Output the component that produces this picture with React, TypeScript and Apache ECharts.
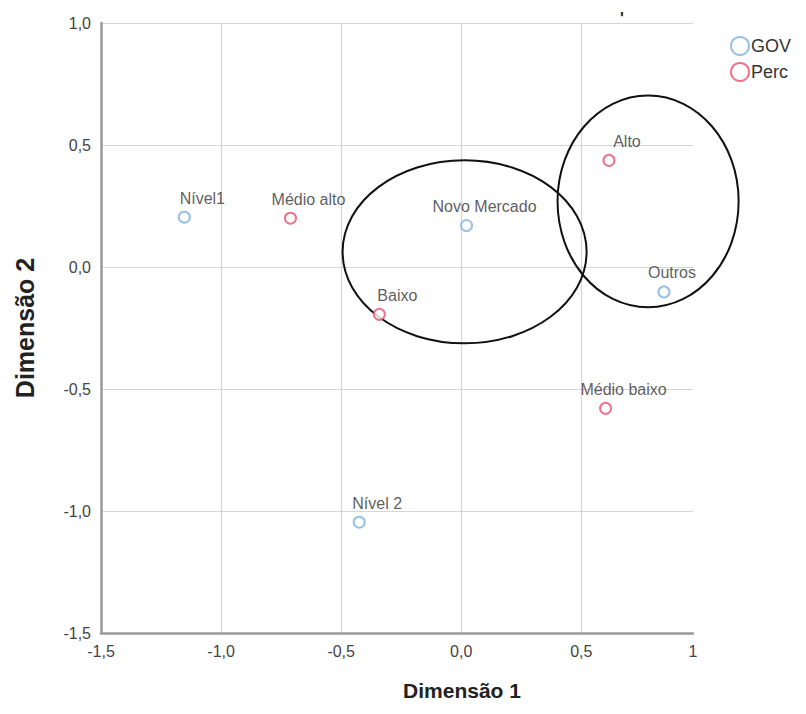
import React, { useEffect, useRef } from 'react';
import * as echarts from 'echarts';

// ---- data ----
const govName = 'GOV';
const percName = 'Perc';

const govLabels = ['Nível1', 'Novo Mercado', 'Outros', 'Nível 2'];
const govX = [-1.153, 0.022, 0.844, -0.425];
const govY = [0.204, 0.17, -0.102, -1.046];

const percLabels = ['Médio alto', 'Baixo', 'Alto', 'Médio baixo'];
const percX = [-0.711, -0.341, 0.615, 0.601];
const percY = [0.2, -0.194, 0.437, -0.579];

// ellipses (centre x, centre y, radius x, radius y) in data units
const ellipseCx = [0.014, 0.778];
const ellipseCy = [0.062, 0.269];
const ellipseRx = [0.508, 0.377];
const ellipseRy = [0.375, 0.434];

const xMin = -1.5;
const xMax = 0.965;
const yMin = -1.5;
const yMax = 1.0;
const tickStep = 0.5;

const xTitle = 'Dimensão 1';
const yTitle = 'Dimensão 2';

// ---- styles ----
const FONT = '"Liberation Sans", Arial, sans-serif';
const BLUE = '#7db1e4';
const RED = '#e6506f';
const labelShiftX: Record<string, number> = { Outros: 8 };

function fmt(v: number): string {
  if (Math.abs(v - xMax) < 1e-6) return '1';
  return v.toFixed(1).replace('.', ',');
}

function pointData(names: string[], xs: number[], ys: number[]) {
  return names.map((n, i) => ({
    name: n,
    value: [xs[i], ys[i]],
    label: { offset: [labelShiftX[n] !== undefined ? labelShiftX[n] : 18, -19] },
  }));
}

export default function App() {
  const ref = useRef<HTMLDivElement>(null);
  useEffect(() => {
    if (!ref.current) return;
    const chart = echarts.init(ref.current, null, { renderer: 'svg' });
    const pointLabel = {
      show: true,
      position: 'inside',
      formatter: (p: any) => p.name,
      color: '#333',
      fontSize: 16,
      fontFamily: FONT,
    };
    const option: any = {
      animation: false,
      backgroundColor: '#ffffff',
      textStyle: { fontFamily: FONT },
      grid: { left: 101, right: 113, top: 23, bottom: 81, containLabel: false },
      legend: {
        orient: 'vertical',
        left: 725,
        top: 31,
        icon: 'circle',
        itemWidth: 18,
        itemHeight: 18,
        itemGap: 6,
        textStyle: { fontSize: 18, color: '#333', fontFamily: FONT, padding: [0, 0, 0, -3] },
        data: [govName, percName],
      },
      xAxis: {
        type: 'value',
        min: xMin,
        max: xMax,
        interval: tickStep,
        axisLine: { show: true, onZero: false, lineStyle: { color: '#9a9a9a', width: 2.5 } },
        axisTick: { show: false },
        axisLabel: {
          show: true,
          showMinLabel: true,
          showMaxLabel: true,
          margin: 10,
          fontSize: 16,
          color: '#444',
          fontFamily: FONT,
          formatter: fmt,
        },
        splitLine: {
          show: true,
          showMinLine: false,
          showMaxLine: false,
          lineStyle: { color: '#d6d6d6', width: 1.2 },
        },
      },
      yAxis: {
        type: 'value',
        min: yMin,
        max: yMax,
        interval: tickStep,
        name: yTitle,
        nameLocation: 'middle',
        nameGap: 64,
        nameRotate: 90,
        nameTextStyle: { fontSize: 25, fontWeight: 'bold', color: '#222', fontFamily: FONT },
        axisLine: { show: true, onZero: false, lineStyle: { color: '#9a9a9a', width: 2.5 } },
        axisTick: { show: false },
        axisLabel: {
          show: true,
          showMinLabel: true,
          showMaxLabel: true,
          margin: 10,
          fontSize: 16,
          color: '#444',
          fontFamily: FONT,
          formatter: (v: number) => v.toFixed(1).replace('.', ','),
        },
        splitLine: {
          show: true,
          showMinLine: false,
          showMaxLine: true,
          lineStyle: { color: '#d6d6d6', width: 1.2 },
        },
      },
      graphic: [
        {
          type: 'text',
          x: 462,
          y: 690,
          style: {
            text: xTitle,
            align: 'center',
            verticalAlign: 'middle',
            fontSize: 21,
            fontWeight: 'bold',
            fill: '#222',
            fontFamily: FONT,
          },
        },
        {
          type: 'text',
          left: 620,
          top: 10,
          style: { text: "'", fontSize: 16, fontWeight: 'bold', fill: '#222', fontFamily: FONT },
        },
      ],
      series: [
        {
          type: 'custom',
          name: 'ellipses',
          silent: true,
          clip: false,
          z: 3,
          data: ellipseCx.map((cx, i) => [cx, ellipseCy[i], ellipseRx[i], ellipseRy[i]]),
          encode: { x: 0, y: 1 },
          renderItem: (params: any, api: any) => {
            const c = api.coord([api.value(0), api.value(1)]);
            const s = api.size([api.value(2), api.value(3)]);
            return {
              type: 'ellipse',
              shape: { cx: c[0], cy: c[1], rx: s[0], ry: s[1] },
              style: { fill: 'none', stroke: '#111', lineWidth: 2 },
            };
          },
        },
        {
          type: 'scatter',
          name: govName,
          symbol: 'circle',
          symbolSize: 11,
          z: 4,
          itemStyle: { color: '#ffffff', borderColor: BLUE, borderWidth: 2 },
          label: pointLabel,
          data: pointData(govLabels, govX, govY),
        },
        {
          type: 'scatter',
          name: percName,
          symbol: 'circle',
          symbolSize: 11,
          z: 4,
          itemStyle: { color: '#ffffff', borderColor: RED, borderWidth: 2 },
          label: pointLabel,
          data: pointData(percLabels, percX, percY),
        },
      ],
    };
    chart.setOption(option);
    return () => chart.dispose();
  }, []);
  return (
    <div
      ref={ref}
      style={{ position: 'fixed', left: 0, top: 0, width: 806, height: 714, background: '#fff' }}
    />
  );
}
